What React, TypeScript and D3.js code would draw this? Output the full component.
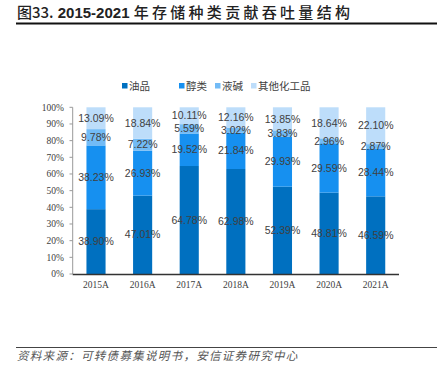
import React from "react";
import * as d3 from "d3";

const years = ["2015A", "2016A", "2017A", "2018A", "2019A", "2020A", "2021A"];
const seriesNames = ["油品", "醇类", "液碱", "其他化工品"];
const oil = [38.9, 47.01, 64.78, 62.98, 52.39, 48.81, 46.59];
const alcohol = [38.23, 26.93, 19.52, 21.84, 29.93, 29.59, 28.44];
const lye = [9.78, 7.22, 5.59, 3.02, 3.83, 2.96, 2.87];
const other = [13.09, 18.84, 10.11, 12.16, 13.85, 18.64, 22.1];
const yTicks = [0, 10, 20, 30, 40, 50, 60, 70, 80, 90, 100];
const colors = ["#0070C0", "#1690F0", "#72BBF6", "#BDDDFA"];

export default function App() {
  const W = 437, H = 369;
  const x = d3.scaleBand<string>().domain(years).range([72.7, 399]).paddingInner(0.59).paddingOuter(0.295);
  const y = d3.scaleLinear().domain([0, 100]).range([274, 107.3]);
  const rows = years.map((yr, i) => ({ yr, oil: oil[i], alcohol: alcohol[i], lye: lye[i], other: other[i] }));
  const keys = ["oil", "alcohol", "lye", "other"];
  const stack = d3.stack<any>().keys(keys)(rows);
  const legendX = [122, 179, 215, 251];
  return (
    <svg width={W} height={H} style={{ position: "absolute", left: 0, top: 0, background: "#fff" }}>
      <text x={17} y={18} fontFamily="'Noto Sans CJK SC', sans-serif" fontSize={15} fill="#222">
        <tspan fontWeight="500">图33.</tspan>
        <tspan fontWeight="bold" fontFamily="'Liberation Sans', sans-serif"> 2015-2021 </tspan>
        <tspan fontWeight="500" letterSpacing={3.3}>年存储种类贡献吞吐量结构</tspan>
      </text>
      <line x1={16} x2={437} y1={23.5} y2={23.5} stroke="#111" strokeWidth={2} />
      {seriesNames.map((n, i) => (
        <g key={n}>
          <rect x={legendX[i]} y={83} width={5.5} height={5.5} fill={colors[i]} />
          <text x={legendX[i] + 7} y={90} fontFamily="'Noto Sans CJK SC', sans-serif" fontSize={10.5} fill="#404040">{n}</text>
        </g>
      ))}
      {stack.map((s, si) => (
        <g key={si}>
          {s.map((d, i) => (
            <rect key={i} x={x(years[i])} width={x.bandwidth()} y={y(d[1])} height={y(d[0]) - y(d[1])} fill={colors[si]} />
          ))}
        </g>
      ))}
      {stack.map((s, si) => (
        <g key={"l" + si}>
          {s.map((d, i) => (
            <text key={i} x={(x(years[i]) as number) + x.bandwidth() / 2} y={y((d[0] + d[1]) / 2)} dy="0.35em" textAnchor="middle"
              fontFamily="'Liberation Sans', sans-serif" fontSize={10.5} fill="#404040">
              {(d[1] - d[0]).toFixed(2)}%
            </text>
          ))}
        </g>
      ))}
      <line x1={72.7} x2={72.7} y1={y(100)} y2={y(0)} stroke="#999" strokeWidth={1} />
      {yTicks.map(t => (
        <g key={t}>
          <line x1={69.5} x2={72.7} y1={y(t)} y2={y(t)} stroke="#999" strokeWidth={1} />
          <text x={64} y={y(t)} dy="0.35em" textAnchor="end" fontFamily="'Liberation Serif', serif" fontSize={9.5} fill="#404040">{t}%</text>
        </g>
      ))}
      <line x1={72.7} x2={399} y1={274.5} y2={274.5} stroke="#333" strokeWidth={1.3} />
      {years.map(yr => (
        <text key={yr} x={(x(yr) as number) + x.bandwidth() / 2} y={288} textAnchor="middle" fontFamily="'Liberation Serif', serif" fontSize={9.5} fill="#404040">{yr}</text>
      ))}
      <line x1={16} x2={437} y1={347.5} y2={347.5} stroke="#444" strokeWidth={1} />
      <text x={17} y={360} fontFamily="'Noto Sans CJK SC', sans-serif" fontStyle="italic" fontSize={11.5} letterSpacing={1.3} fill="#555">
        资料来源：可转债募集说明书，安信证券研究中心
      </text>
    </svg>
  );
}
